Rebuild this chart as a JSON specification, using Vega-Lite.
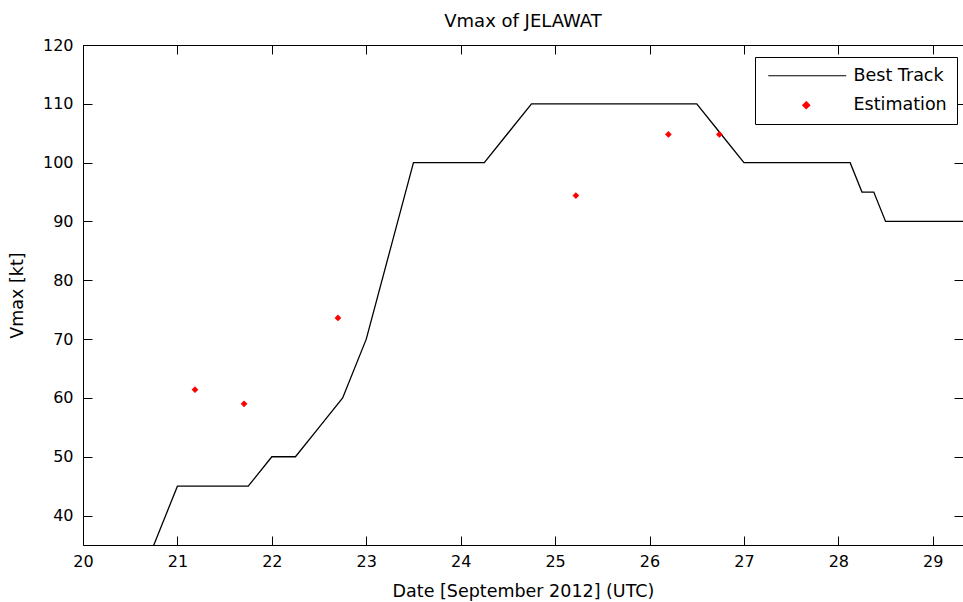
{
  "$schema": "https://vega.github.io/schema/vega-lite/v6.json",
  "width": 880,
  "height": 500,
  "autosize": {"type": "none"},
  "padding": {"left": 83, "top": 45, "right": 0, "bottom": 57},
  "background": "white",
  "title": {"text": "Vmax of JELAWAT", "font": "DejaVu Sans", "fontSize": 18, "fontWeight": "normal", "color": "black", "offset": 6, "anchor": "middle"},
  "config": {
    "view": {"stroke": "black", "strokeWidth": 1},
    "axis": {"grid": false, "domain": false, "tickColor": "black", "tickSize": 9, "offset": -9, "labelFont": "DejaVu Sans", "labelFontSize": 16, "labelColor": "black", "titleFont": "DejaVu Sans", "titleFontSize": 17.5, "titleFontWeight": "normal", "titleColor": "black"},
    "legend": {"orient": "none", "legendX": 672, "legendY": 12, "padding": 10, "strokeColor": "black", "fillColor": "white",
      "labelFont": "DejaVu Sans", "labelFontSize": 17.5, "labelColor": "black", "labelOffset": 71, "rowPadding": 10.5,
      "symbolSize": 49, "symbolStrokeWidth": 1.2, "symbolOpacity": 1}
  },
  "data": {
    "values": [
      {"day": 20.5, "vmax": 30, "series": "Best Track"},
      {"day": 20.75, "vmax": 35, "series": "Best Track"},
      {"day": 21.0, "vmax": 45, "series": "Best Track"},
      {"day": 21.25, "vmax": 45, "series": "Best Track"},
      {"day": 21.5, "vmax": 45, "series": "Best Track"},
      {"day": 21.75, "vmax": 45, "series": "Best Track"},
      {"day": 22.0, "vmax": 50, "series": "Best Track"},
      {"day": 22.25, "vmax": 50, "series": "Best Track"},
      {"day": 22.5, "vmax": 55, "series": "Best Track"},
      {"day": 22.75, "vmax": 60, "series": "Best Track"},
      {"day": 23.0, "vmax": 70, "series": "Best Track"},
      {"day": 23.25, "vmax": 85, "series": "Best Track"},
      {"day": 23.5, "vmax": 100, "series": "Best Track"},
      {"day": 23.75, "vmax": 100, "series": "Best Track"},
      {"day": 24.0, "vmax": 100, "series": "Best Track"},
      {"day": 24.25, "vmax": 100, "series": "Best Track"},
      {"day": 24.5, "vmax": 105, "series": "Best Track"},
      {"day": 24.75, "vmax": 110, "series": "Best Track"},
      {"day": 25.0, "vmax": 110, "series": "Best Track"},
      {"day": 25.25, "vmax": 110, "series": "Best Track"},
      {"day": 25.5, "vmax": 110, "series": "Best Track"},
      {"day": 25.75, "vmax": 110, "series": "Best Track"},
      {"day": 26.0, "vmax": 110, "series": "Best Track"},
      {"day": 26.25, "vmax": 110, "series": "Best Track"},
      {"day": 26.5, "vmax": 110, "series": "Best Track"},
      {"day": 26.75, "vmax": 105, "series": "Best Track"},
      {"day": 27.0, "vmax": 100, "series": "Best Track"},
      {"day": 27.25, "vmax": 100, "series": "Best Track"},
      {"day": 27.5, "vmax": 100, "series": "Best Track"},
      {"day": 27.75, "vmax": 100, "series": "Best Track"},
      {"day": 28.0, "vmax": 100, "series": "Best Track"},
      {"day": 28.125, "vmax": 100, "series": "Best Track"},
      {"day": 28.25, "vmax": 95, "series": "Best Track"},
      {"day": 28.375, "vmax": 95, "series": "Best Track"},
      {"day": 28.5, "vmax": 90, "series": "Best Track"},
      {"day": 28.75, "vmax": 90, "series": "Best Track"},
      {"day": 29.0, "vmax": 90, "series": "Best Track"},
      {"day": 29.25, "vmax": 90, "series": "Best Track"},
      {"day": 29.5, "vmax": 90, "series": "Best Track"},
      {"day": 21.186, "vmax": 61.4, "series": "Estimation"},
      {"day": 21.706, "vmax": 59.0, "series": "Estimation"},
      {"day": 22.70, "vmax": 73.6, "series": "Estimation"},
      {"day": 25.22, "vmax": 94.4, "series": "Estimation"},
      {"day": 26.20, "vmax": 104.8, "series": "Estimation"},
      {"day": 26.74, "vmax": 104.8, "series": "Estimation"}
    ]
  },
  "layer": [
    {
      "transform": [{"filter": "datum.series === 'Best Track'"}],
      "mark": {"type": "line", "color": "black", "strokeWidth": 1.3, "clip": true},
      "encoding": {
        "x": {"field": "day", "type": "quantitative", "scale": {"domain": [20, 29.32], "nice": false, "zero": false},
          "axis": {"orient": "bottom", "values": [20, 21, 22, 23, 24, 25, 26, 27, 28, 29], "title": "Date [September 2012] (UTC)", "labelPadding": 8, "titlePadding": 13, "labelFlush": false, "labelOverlap": false}},
        "y": {"field": "vmax", "type": "quantitative", "scale": {"domain": [35, 120], "nice": false, "zero": false},
          "axis": {"orient": "left", "values": [40, 50, 60, 70, 80, 90, 100, 110, 120], "title": "Vmax [kt]", "labelPadding": 10, "titlePadding": 16, "labelFlush": false, "labelOverlap": false}}
      }
    },
    {
      "transform": [{"filter": "datum.series === 'Estimation'"}],
      "mark": {"type": "point", "shape": "diamond", "size": 45, "filled": true, "opacity": 1, "color": "red"},
      "encoding": {
        "x": {"field": "day", "type": "quantitative", "scale": {"domain": [20, 29.32], "nice": false, "zero": false},
          "axis": {"orient": "top", "values": [20, 21, 22, 23, 24, 25, 26, 27, 28, 29], "labels": false, "title": null}},
        "y": {"field": "vmax", "type": "quantitative", "scale": {"domain": [35, 120], "nice": false, "zero": false},
          "axis": {"orient": "right", "values": [40, 50, 60, 70, 80, 90, 100, 110, 120], "labels": false, "title": null}}
      }
    },
    {
      "transform": [{"filter": "datum.series === 'Estimation'"}],
      "mark": {"type": "point", "filled": true, "opacity": 0},
      "encoding": {
        "x": {"field": "day", "type": "quantitative", "axis": null},
        "y": {"field": "vmax", "type": "quantitative", "axis": null},
        "color": {"field": "series", "type": "nominal",
          "scale": {"domain": ["Best Track", "Estimation"], "range": ["black", "red"]},
          "legend": {"title": null}},
        "stroke": {"field": "series", "type": "nominal",
          "scale": {"domain": ["Best Track", "Estimation"], "range": ["black", "red"]},
          "legend": {"title": null}},
        "shape": {"field": "series", "type": "nominal",
          "scale": {"domain": ["Best Track", "Estimation"], "range": ["M-1.57,0H20.71", "M9.29,-1L10.29,0L9.29,1L8.29,0Z"]},
          "legend": {"title": null}}
      }
    }
  ],
  "resolve": {"axis": {"x": "independent", "y": "independent"}}
}
